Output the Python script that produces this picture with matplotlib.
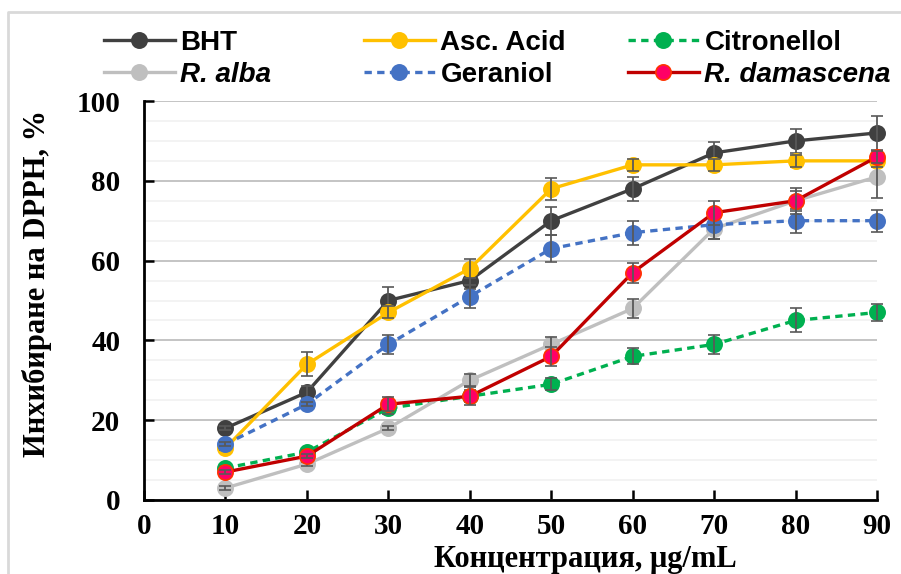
import matplotlib
matplotlib.use("Agg")
import matplotlib.pyplot as plt
from matplotlib.lines import Line2D
from matplotlib.ticker import MultipleLocator

# concentration, ug/mL
conc = [10, 20, 30, 40, 50, 60, 70, 80, 90]

# DPPH inhibition (%) and standard deviations
bht = [18, 27, 50, 55, 70, 78, 87, 90, 92]
bht_err = [0.5, 1.5, 3.4, 2.0, 3.5, 3.0, 2.7, 3.0, 4.3]
asc = [13, 34, 47, 58, 78, 84, 84, 85, 85]
asc_err = [0.5, 3.0, 1.5, 2.3, 2.7, 1.5, 1.5, 1.5, 1.5]
citr = [8, 12, 23, 26, 29, 36, 39, 45, 47]
citr_err = [0.5, 0.5, 1.5, 1.5, 1.5, 2.0, 2.3, 3.0, 2.2]
alba = [3, 9, 18, 30, 39, 48, 68, 75, 81]
alba_err = [0.5, 0.5, 0.5, 1.5, 1.8, 2.3, 2.5, 2.5, 5.3]
ger = [14, 24, 39, 51, 63, 67, 69, 70, 70]
ger_err = [0.5, 0.5, 2.3, 2.8, 3.3, 3.0, 3.5, 3.0, 2.8]
dam = [7, 11, 24, 26, 36, 57, 72, 75, 86]
dam_err = [0.5, 0.5, 1.7, 2.3, 2.4, 2.5, 3.0, 3.3, 1.5]

fig = plt.figure(figsize=(9.01, 5.74), dpi=100)
ax = fig.add_axes([144 / 901, 1 - 500 / 574, (877 - 144) / 901, (500 - 101) / 574])

err_kw = dict(ecolor="#595959", elinewidth=1.3, capsize=4, capthick=1.3)
ms = 11
lw = 2.4

series = [
    (bht, bht_err, "BHT", dict(color="#404040", ls="-", mfc="#404040", mec="#404040")),
    (asc, asc_err, "Asc. Acid", dict(color="#FFC000", ls="-", mfc="#FFC000", mec="#FFC000")),
    (citr, citr_err, "Citronellol", dict(color="#00B050", ls=(0, (2.2, 1.6)), mfc="#00B050", mec="#00B050")),
    (alba, alba_err, "R. alba", dict(color="#BFBFBF", ls="-", mfc="#BFBFBF", mec="#BFBFBF")),
    (ger, ger_err, "Geraniol", dict(color="#4472C4", ls=(0, (2.2, 1.6)), mfc="#4472C4", mec="#4472C4")),
    (dam, dam_err, "R. damascena", dict(color="#C00000", ls="-", mfc="#FF0066", mec="#FF3300")),
]

handles = {}
for i, (vals, errs, name, st) in enumerate(series):
    cont = ax.errorbar(conc, vals, yerr=errs, marker="o", markersize=ms, lw=lw,
                       markeredgewidth=1.2, zorder=3 + i, clip_on=False, **st, **err_kw)
    for art in cont.lines[2]:
        art.set_zorder(3 + i)
    for art in cont.lines[1]:
        art.set_zorder(3 + i)
        art.set_clip_on(False)
    cont.lines[0].set_zorder(3 + i)
    handles[name] = Line2D([], [], marker="o", markersize=ms, lw=lw, markeredgewidth=1.2, **st)

ax.set_xlim(0, 90)
ax.set_ylim(0, 100)
ax.xaxis.set_major_locator(MultipleLocator(10))
ax.yaxis.set_major_locator(MultipleLocator(20))
ax.yaxis.set_minor_locator(MultipleLocator(5))
ax.grid(axis="y", which="major", color="#BFBFBF", lw=1.3, zorder=0)
ax.grid(axis="y", which="minor", color="#F2F2F2", lw=1.3, zorder=0)
ax.set_axisbelow(True)
for s in ["top", "right"]:
    ax.spines[s].set_visible(False)
for s in ["left", "bottom"]:
    ax.spines[s].set_linewidth(2)
    ax.spines[s].set_color("black")

ax.tick_params(axis="both", which="major", direction="in", length=7, width=1.8,
               labelsize=21, pad=17)
ax.tick_params(axis="y", which="minor", length=0)
ax.tick_params(axis="x", pad=9)
for lab in ax.get_xticklabels() + ax.get_yticklabels():
    lab.set_fontfamily("Liberation Serif")
    lab.set_fontweight("bold")

fig.text(585 / 901, 1 - 567 / 574, "Концентрация, μg/mL", ha="center", va="baseline",
         fontsize=22, fontweight="bold", family="Liberation Serif")
fig.text(37 / 901, 1 - 283 / 574, "Инхибиране на DPPH, %", ha="center", va="center",
         rotation=90, fontsize=22, fontweight="bold", family="Liberation Serif")

# legend split into three columns
cols = [(["BHT", "R. alba"], 104), (["Asc. Acid", "Geraniol"], 364), (["Citronellol", "R. damascena"], 628)]
for names, x0 in cols:
    leg = fig.legend([handles[n] for n in names], names, loc="upper left",
                     bbox_to_anchor=(x0 / 901, 1 - 30 / 574), frameon=False,
                     handlelength=2.55, handletextpad=0.2, labelspacing=0.2,
                     borderpad=0, borderaxespad=0, numpoints=1,
                     prop=dict(family="Liberation Sans", weight="bold", size=20))
    for t in leg.get_texts():
        if t.get_text().startswith("R."):
            t.set_fontstyle("italic")

# outer light frame
fig.add_artist(Line2D([8 / 901, 8 / 901, 1], [0, 1 - 12 / 574, 1 - 12 / 574],
                      transform=fig.transFigure, color="#D9D9D9", lw=2))

fig.savefig("out.png", dpi=100)
